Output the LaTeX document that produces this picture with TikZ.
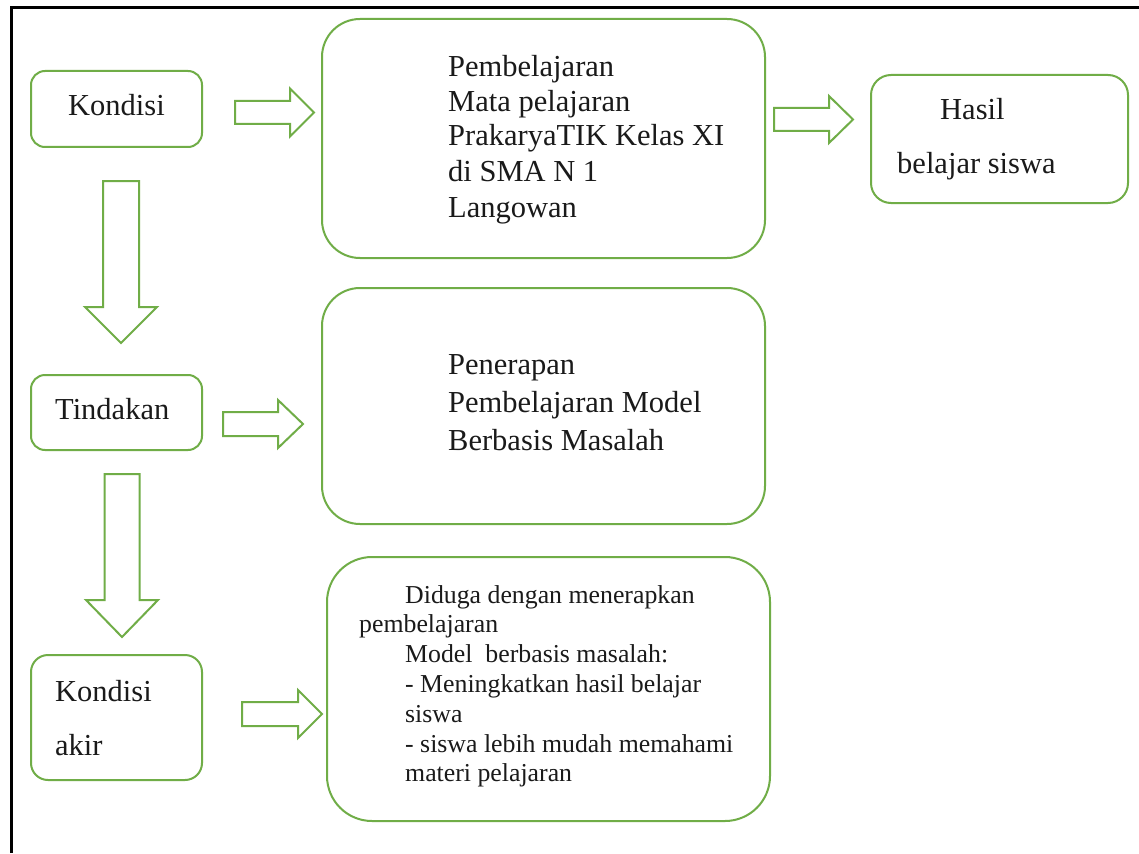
\documentclass[tikz,border=0pt]{standalone}
\usepackage{fontspec}
\setmainfont{Liberation Serif}
\definecolor{boxgreen}{HTML}{70AD47}
\definecolor{txtcol}{HTML}{1A1A1A}
\newcommand\rarrowshape[6]{% x1, xbase, x2, yc, shaft half, head half
  \draw[blockarrow] (#1,{#4-#5}) -- (#2,{#4-#5}) -- (#2,{#4-#6}) -- (#3,#4)
    -- (#2,{#4+#6}) -- (#2,{#4+#5}) -- (#1,{#4+#5}) -- cycle;}
\newcommand\darrowshape[6]{% y1, ybase, y2, xc, shaft half, head half
  \draw[blockarrow] ({#4-#5},#1) -- ({#4-#5},#2) -- ({#4-#6},#2) -- (#4,#3)
    -- ({#4+#6},#2) -- ({#4+#5},#2) -- ({#4+#5},#1) -- cycle;}
\begin{document}
\begin{tikzpicture}[x=1pt,y=-1pt,
  gbox/.style={draw=boxgreen,line width=2pt,rectangle,inner sep=0pt},
  blockarrow/.style={draw=boxgreen,line width=2pt,line join=miter,fill=white},
  big/.style={inner sep=0pt,anchor=base west,text=txtcol,font=\fontsize{30.5}{35}\selectfont},
  small/.style={inner sep=0pt,anchor=base west,text=txtcol,font=\fontsize{25.8}{30}\selectfont}]
\useasboundingbox (0,0) rectangle (1139,853);
\fill[white] (0,0) rectangle (1139,853);
% frame
\draw[black,line width=3pt] (11,853) -- (11,8) -- (1139,8);
% boxes
\draw[gbox,rounded corners=14pt] (31,71) rectangle (202,147);
\draw[gbox,rounded corners=38pt] (322,19) rectangle (765,258);
\draw[gbox,rounded corners=20pt] (871,75) rectangle (1128,203);
\draw[gbox,rounded corners=14pt] (31,375) rectangle (202,450);
\draw[gbox,rounded corners=38pt] (322,288) rectangle (765,524);
\draw[gbox,rounded corners=17pt] (31,655) rectangle (202,780);
\draw[gbox,rounded corners=45pt] (327,557) rectangle (770,821);
% block arrows
\rarrowshape{235}{290}{314}{112.5}{11.5}{24}
\rarrowshape{774}{829}{853}{119.5}{11.5}{23.5}
\rarrowshape{223}{278}{303}{424}{12}{24}
\rarrowshape{242}{298}{322}{714}{12}{24}
\darrowshape{181}{307}{343}{121}{18}{36}
\darrowshape{474}{600}{637}{122}{17.5}{36}
% texts
\node[big] (k1) at (68,116) {Kondisi};
\node[big] (b1a) at (448,77) {Pembelajaran};
\node[big] (b1b) at (448,112) {Mata pelajaran};
\node[big] (b1c) at (448,146) {PrakaryaTIK Kelas XI};
\node[big] (b1d) at (448,182) {di SMA N 1};
\node[big] (b1e) at (448,217) {Langowan};
\node[big] (h1) at (940,120) {Hasil};
\node[big] (h2) at (897,173) {belajar siswa};
\node[big] (t1) at (55,419) {Tindakan};
\node[big] (b2a) at (448,374) {Penerapan};
\node[big] (b2b) at (448,412) {Pembelajaran Model};
\node[big] (b2c) at (448,450) {Berbasis Masalah};
\node[big] (ka1) at (55,701) {Kondisi};
\node[big] (ka2) at (55,755) {akir};
\node[small] (b3a) at (405,603) {Diduga dengan menerapkan};
\node[small] (b3b) at (359,632) {pembelajaran};
\node[small] (b3c) at (405,662) {Model\ \ berbasis masalah:};
\node[small] (b3d) at (405,692) {- Meningkatkan hasil belajar};
\node[small] (b3e) at (405,722) {siswa};
\node[small] (b3f) at (405,752) {- siswa lebih mudah memahami};
\node[small] (b3g) at (405,781) {materi pelajaran};
\end{tikzpicture}
\end{document}
